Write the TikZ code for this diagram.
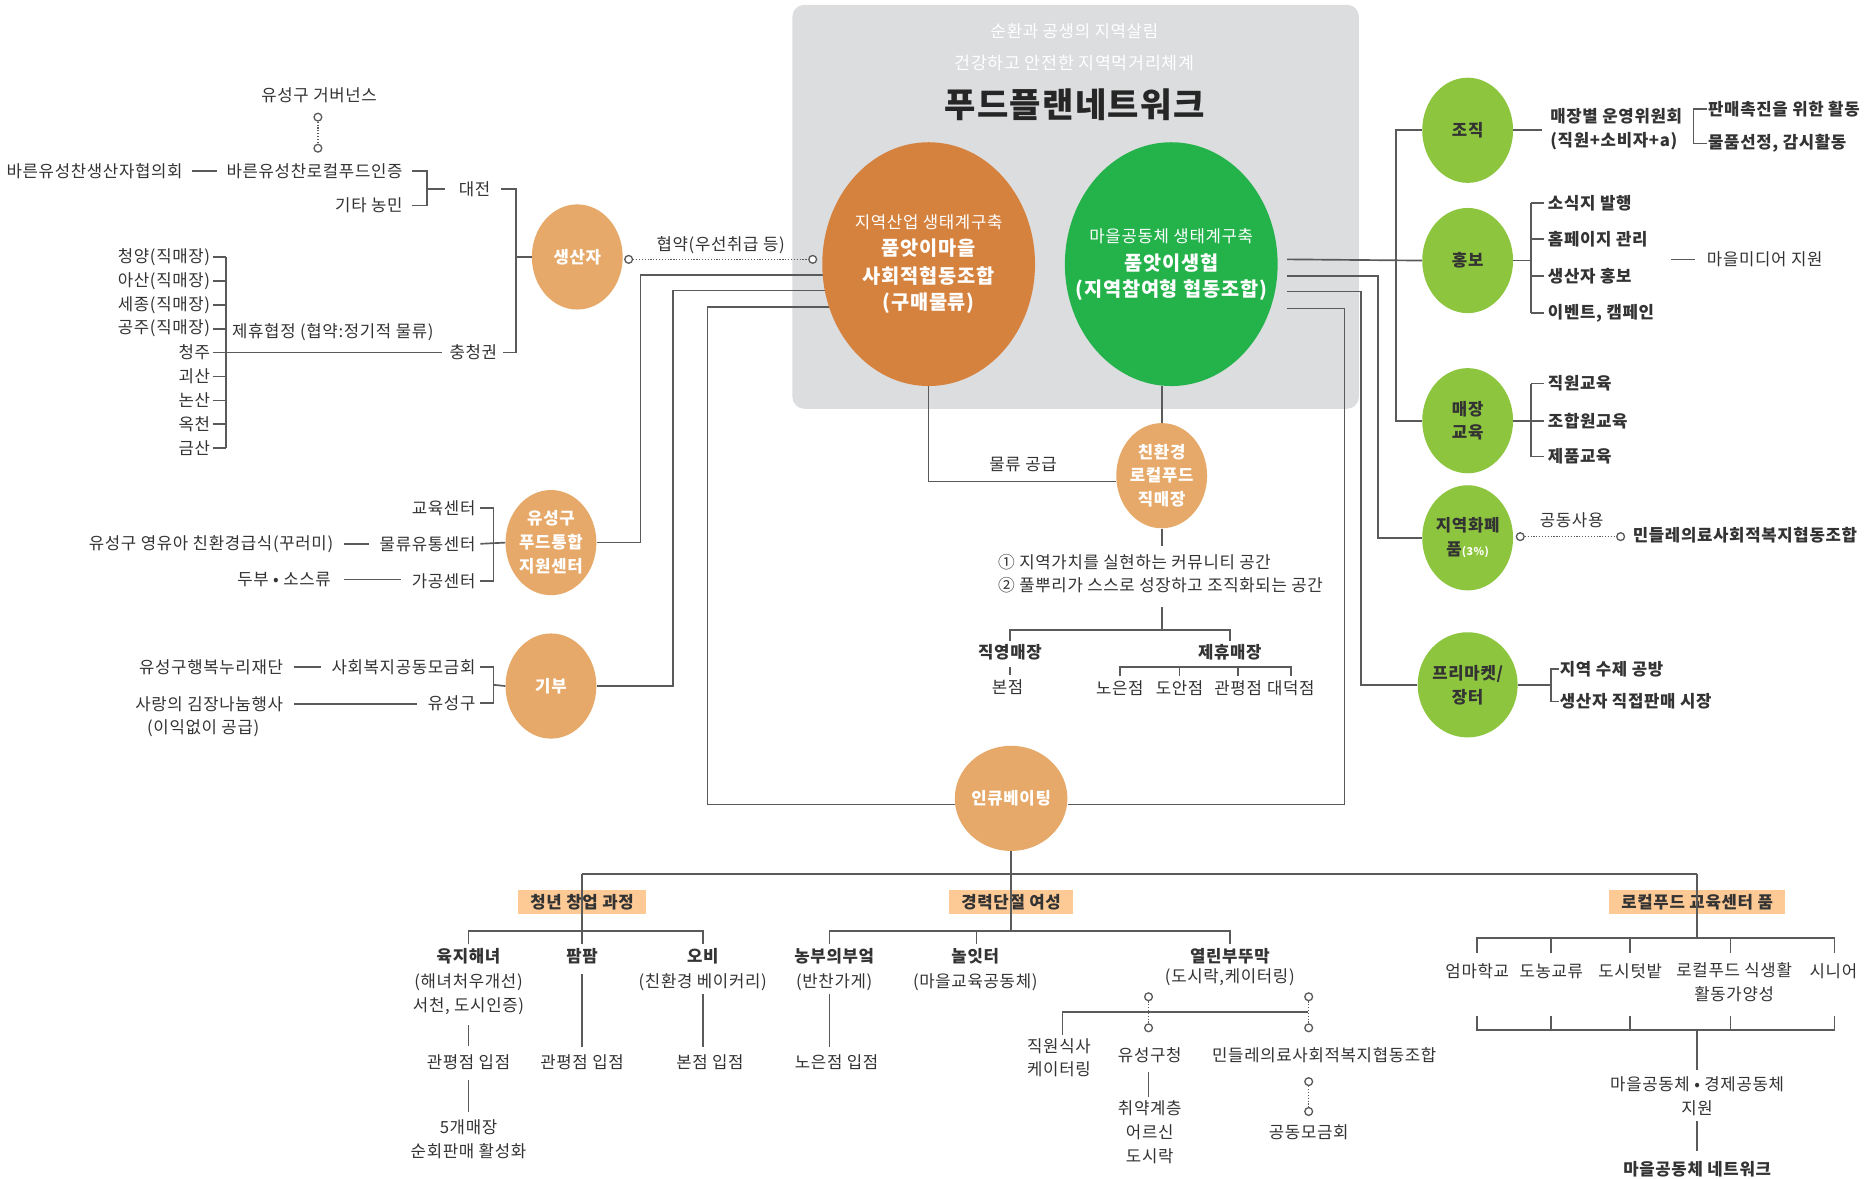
\documentclass[tikz,border=0pt]{standalone}
\usepackage{fontspec}
\setmainfont[LetterSpace=4]{Noto Sans CJK KR}
\usetikzlibrary{shapes.geometric}
\pgfdeclarelayer{bg}\pgfdeclarelayer{lines}\pgfsetlayers{bg,lines,main}
\definecolor{txt}{HTML}{333333}
\definecolor{lc}{HTML}{5A5A5A}
\definecolor{morange}{HTML}{D6823F}
\definecolor{mgreen}{HTML}{24B24B}
\definecolor{lorange}{HTML}{E6A969}
\definecolor{lgreen}{HTML}{8DC53F}
\definecolor{peach}{HTML}{FDCA96}
\definecolor{bgray}{HTML}{DCDDDF}
\tikzset{
 lab/.style={font=\fontsize{14}{20}\selectfont, text=txt, inner sep=0pt, align=center},
 labb/.style={lab, font=\fontsize{14}{20}\selectfont\bfseries},
 ln/.style={draw=lc, line width=1.4pt},
 dotln/.style={draw=lc, line width=1.1pt, dash pattern=on 1pt off 1.4pt},
 oc/.style={circle, draw=lc, fill=white, line width=1.1pt, minimum size=6.5pt, inner sep=0pt},
 lo/.style={ellipse, fill=lorange, minimum width=76pt, minimum height=88pt, inner sep=0pt, text=white, align=center, font=\fontsize{14}{20}\selectfont\bfseries},
 lg/.style={lo, fill=lgreen, text=txt},
 pbox/.style={fill=peach, minimum height=20pt, inner xsep=10pt, inner ysep=0pt, text=txt, font=\fontsize{14}{19}\selectfont\bfseries},
 wsmall/.style={text=white, inner sep=0pt, font=\fontsize{14}{19}\selectfont},
 wbig/.style={text=white, inner sep=0pt, font=\fontsize{16.5}{22}\selectfont\bfseries},
}
\begin{document}
\begin{tikzpicture}[x=1pt,y=-1pt]
\useasboundingbox (0,0) rectangle (1568,986);
% ---------- background ----------
\begin{pgfonlayer}{bg}
\fill[white] (0,0) rectangle (1568,986);
\fill[bgray, rounded corners=10pt] (663,4) rectangle (1137,342);
\node[pbox] (b1) at (487,755) {청년 창업 과정};
\node[pbox] (b2) at (846,755) {경력단절 여성};
\node[pbox] (b3) at (1420,755) {로컬푸드 교육센터 품};
\end{pgfonlayer}
% ---------- top titles ----------
\node[text=white, inner sep=0pt, font=\fontsize{14}{18}\selectfont] (t1) at (899,26) {순환과 공생의 지역살림};
\node[text=white, inner sep=0pt, font=\fontsize{14.5}{18}\selectfont] (t2) at (899,53) {건강하고 안전한 지역먹거리체계};
\node[text=black!85, inner sep=0pt, font=\fontsize{28.5}{30}\selectfont\bfseries] (t3) at (899,88) {푸드플랜네트워크};
% ---------- main ellipses ----------
\node[ellipse, fill=morange, minimum width=178pt, minimum height=204pt, inner sep=0pt] (org) at (777,221) {};
\node[wsmall] (o1) at (777,186) {지역산업 생태계구축};
\node[wbig] (o2) at (777,208) {품앗이마을};
\node[wbig] (o3) at (777,231) {사회적협동조합};
\node[wbig] (o4) at (777,254) {(구매물류)};
\node[ellipse, fill=mgreen, minimum width=178pt, minimum height=204pt, inner sep=0pt] (grn) at (980,221) {};
\node[wsmall] (g1) at (980,198) {마을공동체 생태계구축};
\node[wbig] (g2) at (980,220) {품앗이생협};
\node[wbig] (g3) at (980,243) {(지역참여형 협동조합)};
% ---------- circles ----------
\node[lo] (prod) at (483,215) {생산자};
\node[lo] (ysc) at (461,454) {유성구\\푸드통합\\지원센터};
\node[lo] (gift) at (461,574) {기부};
\node[lo] (chk) at (972,398) {친환경\\로컬푸드\\직매장};
\node[lo] (inc) at (846,668) {인큐베이팅};
\node[lg] (og) at (1228,109) {조직};
\node[lg] (pr) at (1228,218) {홍보};
\node[lg] (edu) at (1228,352) {매장\\교육};
\node[lg] (cur) at (1228,450) {지역화폐\\품{\fontsize{9}{9}\selectfont\color{white}(3\%)}};
\node[lg] (mkt) at (1228,573) {프리마켓/\\장터};
% ---------- connectors of the main ellipses ----------
\begin{pgfonlayer}{lines}
\draw[ln] (ysc.east) -- (536,454) -- (536,230) -- (720,230);
\draw[ln] (gift.east) -- (563,574) -- (563,243) -- (720,243);
\draw[ln] (inc.west |- 0,673) -- (592,673) -- (592,257) -- (720,257);
\draw[ln] (org.south) -- (777,403) -- (chk.west |- 0,403);
\draw[ln] (chk |- grn.south) -- (chk.north);
\draw[ln] (1077,217) -- (pr.west);
\draw[ln] (og.west) -- (1168,109) -- (1168,352) -- (edu.west);
\draw[ln] (1077,231) -- (1153,231) -- (1153,450) -- (cur.west);
\draw[ln] (1077,244) -- (1139,244) -- (1139,573) -- (mkt.west);
\draw[ln] (1077,258) -- (1125,258) -- (1125,673) -- (inc.east |- 0,673);
\end{pgfonlayer}
\node[oc] (pc1) at (526,217) {};
\node[oc] (pc2) at (680,217) {};
\draw[dotln] (pc1) -- (pc2);
\node[lab] (hy) at (603,205) {협약(우선취급 등)};
\node[lab] (ml) at (856,389) {물류 공급};
% ---------- top-left ----------
\node[lab] (gov) at (267,80) {유성구 거버넌스};
\node[oc] (gc1) at (266,98) {};
\node[oc] (gc2) at (266,124) {};
\draw[dotln] (gc1) -- (gc2);
\node[lab, anchor=east] (bpc) at (153,143) {바른유성찬생산자협의회};
\node[lab, anchor=east] (bcert) at (337,143) {바른유성찬로컬푸드인증};
\node[lab, anchor=east] (etc) at (337,172) {기타 농민};
\draw[ln] ([xshift=8pt]bpc.east) -- ([xshift=-8pt]bcert.west);
\draw[ln] ([xshift=8pt]bcert.east) -- (357,143) -- (357,172) -- ([xshift=8pt]etc.east);
\coordinate (djm) at (357,158);
\node[lab] (dj) at (397,158) {대전};
\draw[ln] (djm) -- ([xshift=-11pt]dj.west);
\node[lab] (cc) at (396,295) {충청권};
\draw[ln] ([xshift=9pt]dj.east) -- (432,158) -- (432,295) -- ([xshift=5pt]cc.east);
\draw[ln] (432,215) -- (prod.west);
\foreach \n/\t/\y in {c1/청양(직매장)/215, c2/아산(직매장)/235, c3/세종(직매장)/255, c4/공주(직매장)/275, c5/청주/295, c6/괴산/315, c7/논산/335, c8/옥천/355, c9/금산/375}{
  \node[lab, anchor=east] (\n) at (176,\y) {\t};
}
\foreach \n in {c1,c2,c3,c4,c6,c7,c8,c9}{ \draw[ln] ([xshift=2pt]\n.east) -- (\n.east -| 189,0); }
\draw[ln] (189,215) -- (189,375);
\draw[ln] ([xshift=2pt]c5.east) -- ([xshift=-6pt]cc.west);
\node[lab, anchor=west] (jh) at (194,278) {제휴협정 (협약:정기적 물류)};
% ---------- middle-left ----------
\node[lab, anchor=east] (e1) at (398,425) {교육센터};
\node[lab, anchor=east] (e2) at (398,455) {물류유통센터};
\node[lab, anchor=east] (e3) at (398,486) {가공센터};
\draw[ln] ([xshift=4pt]e1.east) -- (413,425) -- (413,486) -- ([xshift=4pt]e3.east);
\draw[ln] ([xshift=4pt]e2.east) -- (ysc.west);
\node[lab, anchor=east] (e4) at (279,455) {유성구 영유아 친환경급식(꾸러미)};
\node[lab, anchor=east] (e5) at (277,485) {두부 • 소스류};
\draw[ln] ([xshift=9pt]e4.east) -- ([xshift=-9pt]e2.west);
\draw[ln] ([xshift=11pt]e5.east) -- ([xshift=-9pt]e3.west |- e5.east);
\node[lab, anchor=east] (f1) at (398,558) {사회복지공동모금회};
\node[lab, anchor=east] (f2) at (398,588) {유성구};
\draw[ln] ([xshift=4pt]f1.east) -- (413,558) -- (413,588) -- ([xshift=4pt]f2.east);
\draw[ln] (413,573) -- (gift.west);
\node[lab, anchor=east] (f3) at (237,558) {유성구행복누리재단};
\node[lab, anchor=east] (f4) at (237,589) {사랑의 김장나눔행사};
\node[lab] (f5) at (170,609) {(이익없이 공급)};
\draw[ln] ([xshift=9pt]f3.east) -- ([xshift=-9pt]f1.west);
\draw[ln] ([xshift=9pt]f4.east) -- ([xshift=-9pt]f2.west |- f4.east);
% ---------- direct store ----------
\draw[ln] (chk.south) -- (972,457);
\node[lab, anchor=west] (v1) at (835,470) {① 지역가치를 실현하는 커뮤니티 공간};
\node[lab, anchor=west] (v2) at (835,490) {② 풀뿌리가 스스로 성장하고 조직화되는 공간};
\node[labb] (jy) at (845,546) {직영매장};
\node[labb] (jh2) at (1029,546) {제휴매장};
\draw[ln] (972,508) -- (972,527);
\draw[ln] (jy.north |- 0,536) -- (jy.north |- 0,527) -- (jh2.north |- 0,527) -- (jh2.north |- 0,536);
\node[lab] (bj) at (843,575) {본점};
\draw[ln] (845,558) -- (845,565);
\node[lab] (s1) at (937,576) {노은점};
\node[lab] (s2) at (987,576) {도안점};
\node[lab] (s3) at (1036,576) {관평점};
\node[lab] (s4) at (1080,576) {대덕점};
\draw[ln] (s1.north |- 0,566) -- (s1.north |- 0,558) -- (s4.north |- 0,558) -- (s4.north |- 0,566);
\draw[ln] (s2.north |- 0,558) -- (s2.north |- 0,566);
\draw[ln] (s3.north |- 0,558) -- (s3.north |- 0,566);
% ---------- right side ----------
\draw[ln] (og.east) -- (1290,109);
\node[labb, anchor=west] (r1) at (1297,97) {매장별 운영위원회};
\node[labb, anchor=west] (r2) at (1297,118) {(직원+소비자+a)};
\node[labb, anchor=west] (r3) at (1429,91) {판매촉진을 위한 활동};
\node[labb, anchor=west] (r4) at (1429,120) {물품선정, 감시활동};
\draw[ln] ([xshift=-1pt]r3.west) -- (1417,91) -- (1417,120) -- ([xshift=-1pt]r4.west);
\draw[ln] (pr.east) -- (1281,218);
\foreach \n/\t/\y in {p1/소식지 발행/170, p2/홈페이지 관리/200, p3/생산자 홍보/231, p4/이벤트{,} 캠페인/262}{
  \node[labb, anchor=west] (\n) at (1295,\y) {\t};
  \draw[ln] (1281,\y) -- ([xshift=-3pt]\n.west);
}
\draw[ln] (1281,170) -- (1281,262);
\node[lab, anchor=west] (p5) at (1428,217) {마을미디어 지원};
\draw[ln] (1398,217) -- ([xshift=-10pt]p5.west);
\draw[ln] (edu.east) -- (1281,352);
\foreach \n/\t/\y in {q1/직원교육/321, q2/조합원교육/352, q3/제품교육/382}{
  \node[labb, anchor=west] (\n) at (1295,\y) {\t};
  \draw[ln] (1281,\y) -- ([xshift=-3pt]\n.west);
}
\draw[ln] (1281,321) -- (1281,382);
\node[oc] (cc1) at (1272,449) {};
\node[oc] (cc2) at (1356,449) {};
\draw[dotln] (cc1) -- (cc2);
\node[lab] (gd) at (1315,435) {공동사용};
\node[labb, anchor=west] (md) at (1366,448) {민들레의료사회적복지협동조합};
\draw[ln] (mkt.east) -- (1298,573);
\node[labb, anchor=west] (m1) at (1305,560) {지역 수제 공방};
\node[labb, anchor=west] (m2) at (1305,587) {생산자 직접판매 시장};
\draw[ln] ([xshift=-1pt]m1.west) -- (1298,560) -- (1298,587) -- ([xshift=-1pt]m2.west);
% ---------- incubating ----------
\draw[ln] (inc.south) -- (846,731);
\draw[ln] (b1.north |- 0,731) -- (b3.north |- 0,731);
\draw[ln] (b1.north |- 0,731) -- (487,790);
\draw[ln] (b2.north |- 0,731) -- (846,779);
\draw[ln] (b3.north |- 0,731) -- (1420,785);
% youth
\draw[ln] (392,790) -- (392,779) -- (588,779) -- (588,790);
\node[labb] (y1) at (392,800) {육지해녀};
\node[lab] (y1b) at (392,832) {(해녀처우개선)\\서천, 도시인증)};
\node[lab] (y1c) at (392,889) {관평점 입점};
\node[lab] (y1d) at (392,953) {5개매장\\순회판매 활성화};
\draw[ln] (392,858) -- (392,875);
\draw[ln] (392,904) -- (392,930);
\node[labb] (y2) at (487,800) {팜팜};
\node[lab] (y2c) at (487,889) {관평점 입점};
\draw[ln] (487,815) -- (487,876);
\node[labb] (y3) at (588,800) {오비};
\node[lab] (y3b) at (588,822) {(친환경 베이커리)};
\node[lab] (y3c) at (594,889) {본점 입점};
\draw[ln] (588,832) -- (588,876);
% women
\draw[ln] (694,790) -- (694,779) -- (1029,779) -- (1029,790);
\draw[ln] (817,779) -- (817,790);
\node[labb] (w1) at (698,800) {농부의부엌};
\node[lab] (w1b) at (698,822) {(반찬가게)};
\node[lab] (w1c) at (700,889) {노은점 입점};
\draw[ln] (694,832) -- (694,876);
\node[labb] (w2) at (816,800) {놀잇터};
\node[lab] (w2b) at (816,822) {(마을교육공동체)};
\node[labb] (w3) at (1029,800) {열린부뚜막};
\node[lab] (w3b) at (1029,818) {(도시락,케이터링)};
\node[oc] (k1) at (961,834) {};
\node[oc] (k2) at (961,860) {};
\node[oc] (k3) at (1095,834) {};
\node[oc] (k4) at (1095,860) {};
\draw[dotln] (k1) -- (k2);
\draw[dotln] (k3) -- (k4);
\draw[ln] (889,866) -- (889,847) -- (1094,847);
\node[lab] (k5) at (886,885) {직원식사\\케이터링};
\node[lab] (k6) at (962,883) {유성구청};
\draw[ln] (961,897) -- (961,918);
\node[lab] (k7) at (962,947) {취약계층\\어르신\\도시락};
\node[lab] (k8) at (1108,883) {민들레의료사회적복지협동조합};
\node[oc] (k9) at (1095,905) {};
\node[oc] (k10) at (1095,930) {};
\draw[dotln] (k9) -- (k10);
\node[lab] (k11) at (1095,947) {공동모금회};
% local food education
\draw[ln] (1236,797) -- (1236,785) -- (1535,785) -- (1535,797);
\foreach \x in {1298,1364,1448}{ \draw[ln] (\x,785) -- (\x,797); }
\node[lab] (l1) at (1236,813) {엄마학교};
\node[lab] (l2) at (1298,813) {도농교류};
\node[lab] (l3) at (1364,813) {도시텃밭};
\node[lab] (l4) at (1451,822) {로컬푸드 식생활\\활동가양성};
\node[lab] (l5) at (1534,813) {시니어};
\draw[ln] (1236,850) -- (1236,862) -- (1535,862) -- (1535,850);
\foreach \x in {1298,1364,1448}{ \draw[ln] (\x,850) -- (\x,862); }
\draw[ln] (1420,862) -- (1420,895);
\node[lab] (l6) at (1420,917) {마을공동체 • 경제공동체\\지원};
\draw[ln] (1420,938) -- (1420,963);
\node[labb] (l7) at (1420,978) {마을공동체 네트워크};
\end{tikzpicture}
\end{document}
